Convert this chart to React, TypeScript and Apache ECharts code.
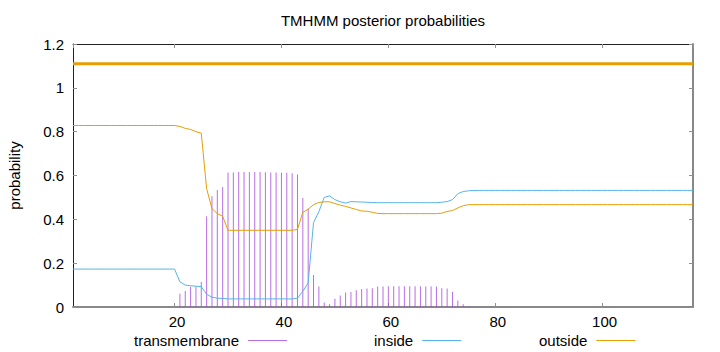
import React, { useEffect, useRef } from "react";
import * as echarts from "echarts";

const FONT = "Liberation Sans, Arial, sans-serif";

// Sequence positions (1..117)
const positions: number[] = [
  1, 2, 3, 4, 5, 6, 7, 8, 9, 10,
  11, 12, 13, 14, 15, 16, 17, 18, 19, 20,
  21, 22, 23, 24, 25, 26, 27, 28, 29, 30,
  31, 32, 33, 34, 35, 36, 37, 38, 39, 40,
  41, 42, 43, 44, 45, 46, 47, 48, 49, 50,
  51, 52, 53, 54, 55, 56, 57, 58, 59, 60,
  61, 62, 63, 64, 65, 66, 67, 68, 69, 70,
  71, 72, 73, 74, 75, 76, 77, 78, 79, 80,
  81, 82, 83, 84, 85, 86, 87, 88, 89, 90,
  91, 92, 93, 94, 95, 96, 97, 98, 99, 100,
  101, 102, 103, 104, 105, 106, 107, 108, 109, 110,
  111, 112, 113, 114, 115, 116, 117,
];

const transmembrane: number[] = [
  0, 0, 0, 0, 0, 0, 0, 0, 0, 0,
  0, 0, 0, 0, 0, 0, 0, 0, 0, 0,
  0.061, 0.073, 0.092, 0.093, 0.114, 0.414, 0.505, 0.534, 0.547, 0.614,
  0.614, 0.616, 0.616, 0.616, 0.616, 0.616, 0.615, 0.614, 0.614, 0.613,
  0.612, 0.61, 0.605, 0.497, 0.449, 0.146, 0.094, 0.02, 0.012, 0.038,
  0.052, 0.066, 0.068, 0.076, 0.082, 0.084, 0.086, 0.093, 0.094, 0.095,
  0.095, 0.095, 0.095, 0.095, 0.095, 0.095, 0.094, 0.094, 0.093, 0.086,
  0.084, 0.07, 0.03, 0.013, 0.003, 0, 0, 0, 0, 0,
  0, 0, 0, 0, 0, 0, 0, 0, 0, 0,
  0, 0, 0, 0, 0, 0, 0, 0, 0, 0,
  0, 0, 0, 0, 0, 0, 0, 0, 0, 0,
  0, 0, 0, 0, 0, 0, 0,
];

const inside: number[] = [
  0.173, 0.173, 0.173, 0.173, 0.173, 0.173, 0.173, 0.173, 0.173, 0.173,
  0.173, 0.173, 0.173, 0.173, 0.173, 0.173, 0.173, 0.173, 0.173, 0.173,
  0.115, 0.1, 0.097, 0.095, 0.093, 0.058, 0.045, 0.04, 0.039, 0.037,
  0.037, 0.037, 0.037, 0.037, 0.037, 0.037, 0.037, 0.037, 0.037, 0.037,
  0.037, 0.037, 0.04, 0.072, 0.11, 0.385, 0.435, 0.5, 0.507, 0.49,
  0.48, 0.474, 0.481, 0.48, 0.479, 0.478, 0.477, 0.476, 0.476, 0.476,
  0.476, 0.476, 0.476, 0.476, 0.476, 0.476, 0.476, 0.476, 0.476, 0.478,
  0.481, 0.49, 0.517, 0.527, 0.53, 0.532, 0.532, 0.532, 0.532, 0.532,
  0.532, 0.532, 0.532, 0.532, 0.532, 0.532, 0.532, 0.532, 0.532, 0.532,
  0.532, 0.532, 0.532, 0.532, 0.532, 0.532, 0.532, 0.532, 0.532, 0.532,
  0.532, 0.532, 0.532, 0.532, 0.532, 0.532, 0.532, 0.532, 0.532, 0.532,
  0.532, 0.532, 0.532, 0.532, 0.532, 0.532, 0.532,
];

const outside: number[] = [
  0.828, 0.828, 0.828, 0.828, 0.828, 0.828, 0.828, 0.828, 0.828, 0.828,
  0.828, 0.828, 0.828, 0.828, 0.828, 0.828, 0.828, 0.828, 0.828, 0.828,
  0.824, 0.815, 0.81, 0.8, 0.793, 0.54, 0.449, 0.426, 0.414, 0.35,
  0.35, 0.35, 0.35, 0.35, 0.35, 0.35, 0.35, 0.35, 0.35, 0.35,
  0.35, 0.35, 0.354, 0.432, 0.446, 0.467, 0.477, 0.48, 0.48, 0.472,
  0.465, 0.459, 0.452, 0.445, 0.438, 0.437, 0.432, 0.427, 0.426, 0.426,
  0.426, 0.426, 0.426, 0.426, 0.426, 0.426, 0.426, 0.426, 0.426, 0.428,
  0.436, 0.44, 0.452, 0.462, 0.467, 0.467, 0.467, 0.467, 0.467, 0.467,
  0.467, 0.467, 0.467, 0.467, 0.467, 0.467, 0.467, 0.467, 0.467, 0.467,
  0.467, 0.467, 0.467, 0.467, 0.467, 0.467, 0.467, 0.467, 0.467, 0.467,
  0.467, 0.467, 0.467, 0.467, 0.467, 0.467, 0.467, 0.467, 0.467, 0.467,
  0.467, 0.467, 0.467, 0.467, 0.467, 0.467, 0.467,
];

// Predicted topology band (all "outside"), drawn as the thick line near the top
const topologyStart = 1;
const topologyEnd = 117;
const topologyLevel = 1.11;

const legendNames = ["transmembrane", "inside", "outside"];

export default function App() {
  const ref = useRef<HTMLDivElement>(null);

  useEffect(() => {
    if (!ref.current) return;
    const chart = echarts.init(ref.current, null, { renderer: "svg" });

    const tickStyle = { color: "#909090", width: 1 };
    const labelStyle = { color: "#000", fontSize: 15, fontFamily: FONT };

    const legendFor = (name: string, left: number) => ({
      data: [{ name, icon: "rect" }],
      align: "right",
      left,
      top: 333,
      padding: 0,
      itemWidth: 39,
      itemHeight: 1,
      textStyle: { ...labelStyle, padding: [0, 4, 0, 0] },
      selectedMode: false,
    });

    chart.setOption({
      animation: false,
      backgroundColor: "#fff",
      title: {
        text: "TMHMM posterior probabilities",
        left: 383,
        top: 13,
        padding: 0,
        textAlign: "center",
        textStyle: { ...labelStyle, fontWeight: "normal" },
      },
      legend: [
        legendFor(legendNames[0], 134),
        legendFor(legendNames[1], 374),
        legendFor(legendNames[2], 539),
      ],
      grid: {
        left: 73,
        top: 44,
        width: 620,
        height: 263,
        containLabel: false,
        outerBoundsMode: "none",
      },
      xAxis: [
        {
          type: "value",
          min: 1,
          max: 117,
          splitNumber: 5,
          position: "bottom",
          axisLine: { onZero: false, lineStyle: { color: "#888", width: 2 } },
          axisTick: { inside: true, length: 4, lineStyle: tickStyle },
          axisLabel: {
            ...labelStyle,
            margin: 7,
            padding: [0, 0, 0, 5],
            showMinLabel: false,
            showMaxLabel: false,
          },
          splitLine: { show: false },
        },
        {
          type: "value",
          min: 1,
          max: 117,
          splitNumber: 5,
          position: "top",
          axisLine: { onZero: false, lineStyle: { color: "#222", width: 1 } },
          axisTick: { inside: true, length: 4, lineStyle: tickStyle },
          axisLabel: { show: false },
          splitLine: { show: false },
        },
      ],
      yAxis: [
        {
          type: "value",
          min: 0,
          max: 1.2,
          interval: 0.2,
          position: "left",
          name: "probability",
          nameLocation: "middle",
          nameGap: 51,
          nameRotate: 90,
          nameTextStyle: labelStyle,
          axisLine: { show: true, onZero: false, lineStyle: { color: "#222", width: 1 } },
          axisTick: { show: true, inside: true, length: 4, lineStyle: tickStyle },
          axisLabel: { ...labelStyle, margin: 9 },
          splitLine: { show: false },
        },
        {
          type: "value",
          min: 0,
          max: 1.2,
          interval: 0.2,
          position: "right",
          axisLine: { show: true, onZero: false, lineStyle: { color: "#888", width: 2 } },
          axisTick: { show: true, inside: true, length: 4, lineStyle: tickStyle },
          axisLabel: { show: false },
          splitLine: { show: false },
        },
      ],
      series: [
        {
          name: "transmembrane",
          type: "bar",
          xAxisIndex: 0,
          yAxisIndex: 0,
          barWidth: 1,
          color: "#a23ddb",
          itemStyle: { color: "#a23ddb", opacity: 0.75 },
          data: positions.map((p, i) => [p, transmembrane[i]]),
          z: 1,
        },
        {
          name: "inside",
          type: "line",
          xAxisIndex: 0,
          yAxisIndex: 0,
          showSymbol: false,
          symbol: "none",
          color: "#56b4e9",
          lineStyle: { color: "#56b4e9", width: 1 },
          data: positions.map((p, i) => [p, inside[i]]),
          z: 2,
        },
        {
          name: "outside",
          type: "line",
          xAxisIndex: 0,
          yAxisIndex: 0,
          showSymbol: false,
          symbol: "none",
          color: "#e69f00",
          lineStyle: { color: "#e69f00", width: 1 },
          data: positions.map((p, i) => [p, outside[i]]),
          z: 3,
        },
        {
          name: "topology",
          type: "line",
          xAxisIndex: 0,
          yAxisIndex: 0,
          showSymbol: false,
          symbol: "none",
          color: "#e69f00",
          lineStyle: { color: "#e69f00", width: 3 },
          data: [
            [topologyStart, topologyLevel],
            [topologyEnd, topologyLevel],
          ],
          z: 4,
        },
      ],
    });

    return () => chart.dispose();
  }, []);

  return (
    <div
      ref={ref}
      style={{ position: "fixed", left: 0, top: 0, width: 720, height: 352, background: "#fff" }}
    />
  );
}
